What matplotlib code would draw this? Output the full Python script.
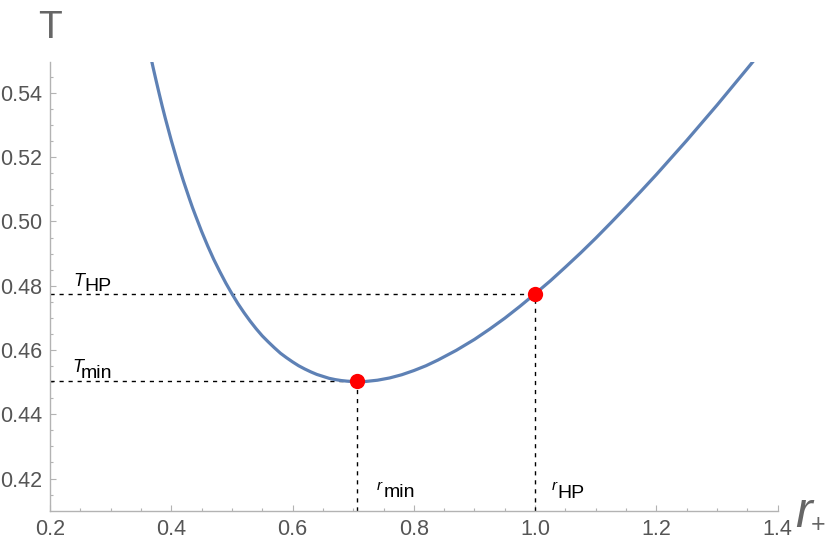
import matplotlib.pyplot as plt

plt.rcParams['font.family'] = ['Liberation Sans', 'DejaVu Sans']

# curve T(r+)
r_vals = [0.365, 0.37, 0.375, 0.38, 0.385, 0.39, 0.395, 0.40, 0.41, 0.415,
          0.42, 0.425, 0.43, 0.435, 0.44, 0.45, 0.46, 0.465, 0.47, 0.48,
          0.49, 0.50, 0.51, 0.52, 0.53, 0.54, 0.55, 0.56, 0.57, 0.58, 0.59,
          0.60, 0.61, 0.62, 0.63, 0.64, 0.65, 0.66, 0.67, 0.68, 0.69, 0.70,
          0.707, 0.72, 0.74, 0.76, 0.78, 0.80, 0.82, 0.84, 0.87, 0.90,
          0.925, 0.95, 0.975, 1.00, 1.025, 1.05, 1.075, 1.10, 1.125, 1.15,
          1.175, 1.20, 1.225, 1.25, 1.275, 1.30, 1.325, 1.35, 1.36]
t_vals = [0.5522, 0.5479, 0.5438, 0.5398, 0.5359, 0.5322, 0.5287, 0.5252,
          0.5187, 0.5156, 0.5126, 0.5098, 0.5070, 0.5043, 0.5018, 0.4969,
          0.4924, 0.4903, 0.4882, 0.4844, 0.4808, 0.4775, 0.4744, 0.4716,
          0.4690, 0.4666, 0.4644, 0.4625, 0.4607, 0.4590, 0.4576, 0.4563,
          0.4551, 0.4541, 0.4532, 0.4524, 0.4518, 0.4512, 0.4508, 0.4505,
          0.4503, 0.4502, 0.4502, 0.4502, 0.4506, 0.4513, 0.4523, 0.4536,
          0.4551, 0.4569, 0.4599, 0.4633, 0.4665, 0.4699, 0.4736, 0.4775,
          0.4815, 0.4858, 0.4902, 0.4948, 0.4996, 0.5045, 0.5095, 0.5146,
          0.5199, 0.5252, 0.5307, 0.5362, 0.5419, 0.5476, 0.5499]

# special points
r_min, t_min = 0.707, 0.4502
r_hp, t_hp = 1.0, 0.4775

x_ticks = [0.2, 0.4, 0.6, 0.8, 1.0, 1.2, 1.4]
y_ticks = [0.42, 0.44, 0.46, 0.48, 0.50, 0.52, 0.54]

fig = plt.figure(figsize=(8.3, 5.46), dpi=100)
ax = fig.add_axes([50 / 830, 1 - 510.7 / 546, 727.7 / 830, 449 / 546])

ax.plot(r_vals, t_vals, color='#5E81B5', lw=2.3, zorder=3,
        solid_joinstyle='round', solid_capstyle='round')

dash = (0, (3, 3.5))
ax.plot([0.2, r_hp], [t_hp, t_hp], color='black', lw=1.0, ls=dash, zorder=2)
ax.plot([r_hp, r_hp], [0.41, t_hp], color='black', lw=1.0, ls=dash, zorder=2)
ax.plot([0.2, r_min], [t_min, t_min], color='black', lw=1.0, ls=dash, zorder=2)
ax.plot([r_min, r_min], [0.41, t_min], color='black', lw=1.0, ls=dash, zorder=2)

ax.plot([r_min, r_hp], [t_min, t_hp], 'o', color='red', ms=11, zorder=4,
        markeredgewidth=0)

ax.set_xlim(0.2, 1.4)
ax.set_ylim(0.41, 0.5497)

ax.set_xticks(x_ticks)
ax.set_xticklabels(['0.2', '0.4', '0.6', '0.8', '1.0', '1.2', '1.4'])
ax.set_yticks(y_ticks)
ax.set_yticklabels(['0.42', '0.44', '0.46', '0.48', '0.50', '0.52', '0.54'])
ax.set_xticks([0.25 + 0.05 * i for i in range(23) if i % 4 != 3], minor=True)
ax.set_yticks([0.415 + 0.005 * i for i in range(27) if i % 4 != 1], minor=True)

gray = '#b3b3b3'
for side in ['top', 'right']:
    ax.spines[side].set_visible(False)
for side in ['left', 'bottom']:
    ax.spines[side].set_color(gray)
    ax.spines[side].set_linewidth(1.0)
ax.tick_params(which='major', direction='in', length=4.5, width=0.8,
               color=gray, labelsize=15.5, labelcolor='#555555', pad=6)
ax.tick_params(axis='y', which='major', pad=5.5)
ax.tick_params(which='minor', direction='in', length=2.5, width=0.8,
               color=gray)

# axis labels
fig.text(38 / 830, 1 - 38 / 546, 'T', fontsize=28, color='#666666',
         ha='left', va='baseline')
fig.text(795 / 830, 1 - 527 / 546, 'r', fontsize=36, color='#666666',
         style='italic', ha='left', va='baseline')
fig.text(811 / 830, 1 - 532 / 546, '+', fontsize=18, color='#666666',
         ha='left', va='baseline')

# point labels
ax.text(0.2379, 0.4800, 'T', fontsize=13, style='italic', va='baseline')
ax.text(0.2565, 0.4785, 'HP', fontsize=14, va='baseline')
ax.text(0.2363, 0.4531, 'T', fontsize=13, style='italic', va='baseline')
ax.text(0.2500, 0.4512, 'min', fontsize=14, va='baseline')
ax.text(0.7392, 0.4164, 'r', fontsize=11, style='italic', va='baseline')
ax.text(0.7505, 0.4143, 'min', fontsize=14, va='baseline')
ax.text(1.0278, 0.4164, 'r', fontsize=11, style='italic', va='baseline')
ax.text(1.0360, 0.4139, 'HP', fontsize=14, va='baseline')

fig.savefig('out.png', dpi=100)
